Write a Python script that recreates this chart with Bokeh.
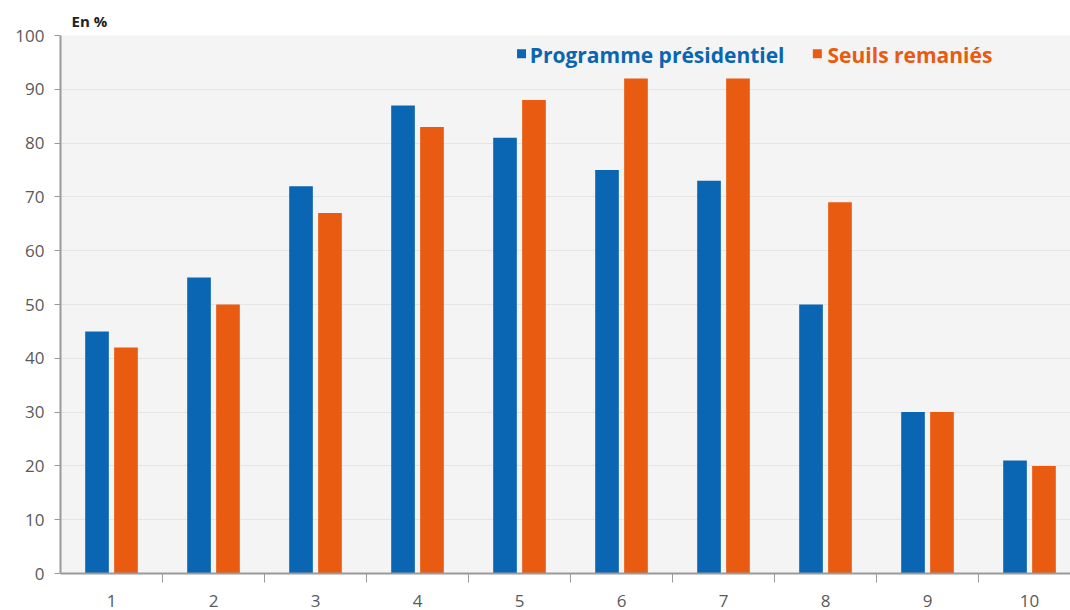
from bokeh.plotting import figure
from bokeh.models import Range1d, FixedTicker, ColumnDataSource, Title
from bokeh.embed import file_html
from bokeh.resources import INLINE
from bokeh.core.properties import value

categories = [1, 2, 3, 4, 5, 6, 7, 8, 9, 10]
programme = [45, 55, 72, 87, 81, 75, 73, 50, 30, 21]
seuils = [42, 50, 67, 83, 88, 92, 92, 69, 30, 20]
series_names = ["Programme présidentiel", "Seuils remaniés"]
y_ticks = [0, 10, 20, 30, 40, 50, 60, 70, 80, 90, 100]

BLUE = "#0a66b2"
ORANGE = "#e85b10"
FONT = "Open Sans"

p = figure(width=1070, height=610, output_backend="svg", toolbar_location=None,
           x_range=Range1d(0.5, 0.5 + 1010 / 102), y_range=Range1d(0, 100),
           min_border_left=60, min_border_right=0, min_border_bottom=37, min_border_top=35)
p.background_fill_color = "#f4f4f4"
p.border_fill_color = "white"
p.outline_line_color = None

src = ColumnDataSource(dict(
    xb=[c - 0.142 for c in categories], xo=[c + 0.142 for c in categories],
    prog=programme, seu=seuils))
p.vbar(x="xb", top="prog", width=0.232, source=src, color=BLUE, line_color=None)
p.vbar(x="xo", top="seu", width=0.232, source=src, color=ORANGE, line_color=None)

# legend drawn manually (coloured labels)
p.rect(x=[5.02, 7.92], y=[96.6, 96.6], width=9, height=9, width_units="screen",
       height_units="screen", color=[BLUE, ORANGE], line_color=None)
p.text(x=[5.10, 8.02], y=[96.4, 96.4], text=series_names, text_color=[BLUE, ORANGE],
       text_font=value(FONT), text_font_style="bold", text_font_size="21px",
       text_baseline="middle", text_align="left")

# axes
p.yaxis.ticker = FixedTicker(ticks=y_ticks)
p.yaxis.axis_line_color = "#9a9a9a"
p.yaxis.axis_line_width = 2
p.yaxis.major_tick_line_color = "#9a9a9a"
p.yaxis.major_tick_in = 0
p.yaxis.major_tick_out = 6
p.yaxis.minor_tick_line_color = None
p.yaxis.major_label_text_font = FONT
p.yaxis.major_label_text_font_size = "17px"
p.yaxis.major_label_text_color = "#5a5a5a"
p.yaxis.major_label_standoff = 10

p.xaxis.ticker = FixedTicker(ticks=categories, minor_ticks=[c + 0.5 for c in categories[:-1]])
p.xaxis.axis_line_color = "#9a9a9a"
p.xaxis.axis_line_width = 2
p.xaxis.major_tick_line_color = None
p.xaxis.minor_tick_line_color = "#9a9a9a"
p.xaxis.minor_tick_in = 0
p.xaxis.minor_tick_out = 9
p.xaxis.major_label_text_font = FONT
p.xaxis.major_label_text_font_size = "17px"
p.xaxis.major_label_text_color = "#5a5a5a"
p.xaxis.major_label_standoff = 12

p.xgrid.grid_line_color = None
p.ygrid.grid_line_color = "#e4e4e4"
p.ygrid.grid_line_width = 1

t = Title(text="En %", text_font=FONT, text_font_size="15px", text_font_style="bold",
          text_color="#222222", align="left", offset=11, standoff=6, vertical_align="top")
p.add_layout(t, "above")

open("out.html", "w").write(file_html(p, INLINE))
